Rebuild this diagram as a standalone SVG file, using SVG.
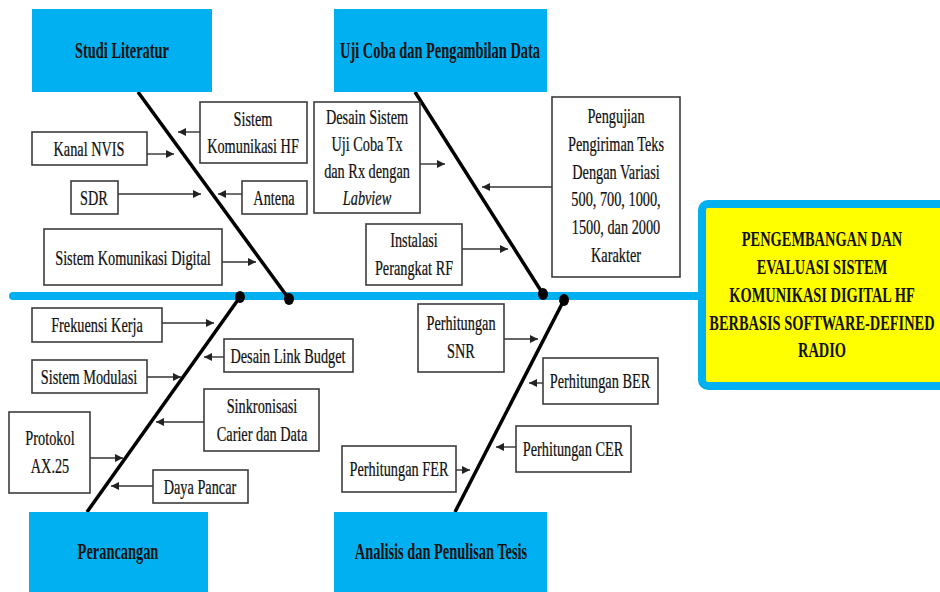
<svg xmlns="http://www.w3.org/2000/svg" width="940" height="592" viewBox="0 0 940 592">
  <style>
    .bg { fill: #ffffff; }
    .phase { fill: #00b0f0; }
    .box { fill: #ffffff; stroke: #3c3c3c; stroke-width: 1.6; }
    .t { font-family: "Liberation Serif", "Times New Roman", serif; font-size: 22px; fill: #111111; stroke: #111111; stroke-width: 0.25; text-anchor: middle; }
    .h { font-family: "Liberation Serif", "Times New Roman", serif; font-size: 24px; font-weight: bold; fill: #111111; text-anchor: middle; }
    .y { font-family: "Liberation Serif", "Times New Roman", serif; font-size: 21px; font-weight: bold; fill: #111111; text-anchor: middle; }
    .bone { stroke: #000000; stroke-width: 3.5; fill: none; }
    .dot { fill: #000000; }
    .arr { stroke: #333333; stroke-width: 1.4; fill: none; marker-end: url(#head); }
    .spine { stroke: #00b0f0; stroke-width: 8; stroke-linecap: round; fill: none; }
  </style>
  <defs>
    <marker id="head" markerUnits="userSpaceOnUse" markerWidth="9" markerHeight="8" refX="8" refY="4" orient="auto">
      <path d="M0,0 L8,4 L0,8 Z" fill="#222222"/>
    </marker>
  </defs>

  <rect class="bg" x="0" y="0" width="940" height="592"/>

  <!-- fish spine, bones and cause arrows -->
  <g id="connectors">
    <line class="spine" x1="13" y1="296" x2="702" y2="296"/>

    <line class="bone" x1="138" y1="92" x2="289" y2="299"/>
    <line class="bone" x1="415" y1="92" x2="543" y2="294"/>
    <line class="bone" x1="240" y1="297" x2="87" y2="512"/>
    <line class="bone" x1="564" y1="300" x2="455" y2="512"/>
    <ellipse class="dot" cx="289" cy="299" rx="5" ry="6"/>
    <ellipse class="dot" cx="543" cy="294" rx="5" ry="6"/>
    <ellipse class="dot" cx="240" cy="297" rx="5" ry="6"/>
    <ellipse class="dot" cx="564" cy="300" rx="5" ry="6"/>

    <line class="arr" x1="200" y1="132" x2="178" y2="132"/>
    <line class="arr" x1="147" y1="154" x2="174" y2="154"/>
    <line class="arr" x1="118" y1="194" x2="201" y2="194"/>
    <line class="arr" x1="242" y1="194" x2="218" y2="194"/>
    <line class="arr" x1="222" y1="262" x2="256" y2="262"/>
    <line class="arr" x1="420" y1="164" x2="445" y2="164"/>
    <line class="arr" x1="462" y1="249" x2="508" y2="249"/>
    <line class="arr" x1="552" y1="187" x2="482" y2="187"/>
    <line class="arr" x1="162" y1="323" x2="214" y2="323"/>
    <line class="arr" x1="224" y1="357" x2="204" y2="357"/>
    <line class="arr" x1="147" y1="377" x2="181" y2="377"/>
    <line class="arr" x1="204" y1="422" x2="156" y2="422"/>
    <line class="arr" x1="90" y1="458" x2="123" y2="458"/>
    <line class="arr" x1="153" y1="486" x2="111" y2="486"/>
    <line class="arr" x1="504" y1="339" x2="538" y2="339"/>
    <line class="arr" x1="543" y1="383" x2="529" y2="383"/>
    <line class="arr" x1="516" y1="447" x2="496" y2="447"/>
    <line class="arr" x1="456" y1="470" x2="470" y2="470"/>
  </g>

  <!-- phase heads -->
  <g id="studi-literatur">
    <rect class="phase" x="32" y="9" width="180" height="83"/>
    <text class="h" transform="translate(122 58) scale(0.6 1)">Studi Literatur</text>
  </g>
  <g id="uji-coba">
    <rect class="phase" x="334" y="9" width="213" height="83"/>
    <text class="h" transform="translate(440 58) scale(0.6 1)">Uji Coba dan Pengambilan Data</text>
  </g>
  <g id="perancangan">
    <rect class="phase" x="29" y="512" width="179" height="85"/>
    <text class="h" transform="translate(118 559) scale(0.6 1)">Perancangan</text>
  </g>
  <g id="analisis">
    <rect class="phase" x="334" y="512" width="213" height="85"/>
    <text class="h" transform="translate(441 559) scale(0.6 1)">Analisis dan Penulisan Tesis</text>
  </g>

  <!-- effect (fish head) -->
  <g id="judul">
    <rect x="702" y="204" width="250" height="182" rx="6" fill="#ffff00" stroke="#00b0f0" stroke-width="8"/>
    <text class="y" transform="translate(822 246) scale(0.686 1)">PENGEMBANGAN DAN</text>
    <text class="y" transform="translate(822 273.5) scale(0.686 1)">EVALUASI SISTEM</text>
    <text class="y" transform="translate(822 302) scale(0.686 1)">KOMUNIKASI DIGITAL HF</text>
    <text class="y" transform="translate(822 329.5) scale(0.686 1)">BERBASIS SOFTWARE-DEFINED</text>
    <text class="y" transform="translate(822 357) scale(0.686 1)">RADIO</text>
  </g>

  <!-- causes: Studi Literatur -->
  <g id="sistem-komunikasi-hf">
    <rect class="box" x="200" y="102" width="107" height="61"/>
    <text class="t" transform="translate(253 126) scale(0.65 1)">Sistem</text>
    <text class="t" transform="translate(253 153) scale(0.65 1)">Komunikasi HF</text>
  </g>
  <g id="kanal-nvis">
    <rect class="box" x="32" y="132" width="115" height="33"/>
    <text class="t" transform="translate(89 156) scale(0.65 1)">Kanal NVIS</text>
  </g>
  <g id="sdr">
    <rect class="box" x="71" y="181" width="47" height="33"/>
    <text class="t" transform="translate(94 205) scale(0.65 1)">SDR</text>
  </g>
  <g id="antena">
    <rect class="box" x="242" y="181" width="65" height="33"/>
    <text class="t" transform="translate(274 205) scale(0.65 1)">Antena</text>
  </g>
  <g id="sistem-komunikasi-digital">
    <rect class="box" x="44" y="229" width="178" height="56"/>
    <text class="t" transform="translate(133 265) scale(0.65 1)">Sistem Komunikasi Digital</text>
  </g>

  <!-- causes: Uji Coba dan Pengambilan Data -->
  <g id="desain-sistem-uji-coba">
    <rect class="box" x="314" y="102" width="106" height="111"/>
    <text class="t" transform="translate(367 124) scale(0.65 1)">Desain Sistem</text>
    <text class="t" transform="translate(367 151) scale(0.65 1)">Uji Coba Tx</text>
    <text class="t" transform="translate(367 178) scale(0.65 1)">dan Rx dengan</text>
    <text class="t" transform="translate(367 205) scale(0.65 1)" font-style="italic">Labview</text>
  </g>
  <g id="instalasi-perangkat-rf">
    <rect class="box" x="366" y="224" width="96" height="61"/>
    <text class="t" transform="translate(414 247) scale(0.65 1)">Instalasi</text>
    <text class="t" transform="translate(414 275) scale(0.65 1)">Perangkat RF</text>
  </g>
  <g id="pengujian-pengiriman-teks">
    <rect class="box" x="552" y="97" width="128" height="180"/>
    <text class="t" transform="translate(616 123) scale(0.65 1)">Pengujian</text>
    <text class="t" transform="translate(616 151) scale(0.65 1)">Pengiriman Teks</text>
    <text class="t" transform="translate(616 179) scale(0.65 1)">Dengan Variasi</text>
    <text class="t" transform="translate(616 206) scale(0.65 1)">500, 700, 1000,</text>
    <text class="t" transform="translate(616 234) scale(0.65 1)">1500, dan 2000</text>
    <text class="t" transform="translate(616 262) scale(0.65 1)">Karakter</text>
  </g>

  <!-- causes: Perancangan -->
  <g id="frekuensi-kerja">
    <rect class="box" x="32" y="308" width="130" height="34"/>
    <text class="t" transform="translate(97 332) scale(0.65 1)">Frekuensi Kerja</text>
  </g>
  <g id="desain-link-budget">
    <rect class="box" x="224" y="339" width="129" height="33"/>
    <text class="t" transform="translate(288 363) scale(0.65 1)">Desain Link Budget</text>
  </g>
  <g id="sistem-modulasi">
    <rect class="box" x="32" y="360" width="115" height="33"/>
    <text class="t" transform="translate(89 384) scale(0.65 1)">Sistem Modulasi</text>
  </g>
  <g id="sinkronisasi">
    <rect class="box" x="204" y="389" width="115" height="62"/>
    <text class="t" transform="translate(262 413) scale(0.65 1)">Sinkronisasi</text>
    <text class="t" transform="translate(262 441) scale(0.65 1)">Carier dan Data</text>
  </g>
  <g id="protokol-ax25">
    <rect class="box" x="9" y="412" width="81" height="81"/>
    <text class="t" transform="translate(50 445) scale(0.65 1)">Protokol</text>
    <text class="t" transform="translate(50 473) scale(0.65 1)">AX.25</text>
  </g>
  <g id="daya-pancar">
    <rect class="box" x="153" y="470" width="95" height="33"/>
    <text class="t" transform="translate(200 494) scale(0.65 1)">Daya Pancar</text>
  </g>

  <!-- causes: Analisis dan Penulisan Tesis -->
  <g id="perhitungan-snr">
    <rect class="box" x="418" y="304" width="86" height="68"/>
    <text class="t" transform="translate(461 330) scale(0.65 1)">Perhitungan</text>
    <text class="t" transform="translate(461 358) scale(0.65 1)">SNR</text>
  </g>
  <g id="perhitungan-ber">
    <rect class="box" x="543" y="358" width="115" height="46"/>
    <text class="t" transform="translate(600 388) scale(0.65 1)">Perhitungan BER</text>
  </g>
  <g id="perhitungan-cer">
    <rect class="box" x="516" y="426" width="115" height="46"/>
    <text class="t" transform="translate(573 456) scale(0.65 1)">Perhitungan CER</text>
  </g>
  <g id="perhitungan-fer">
    <rect class="box" x="342" y="446" width="114" height="46"/>
    <text class="t" transform="translate(399 476) scale(0.65 1)">Perhitungan FER</text>
  </g>
</svg>
